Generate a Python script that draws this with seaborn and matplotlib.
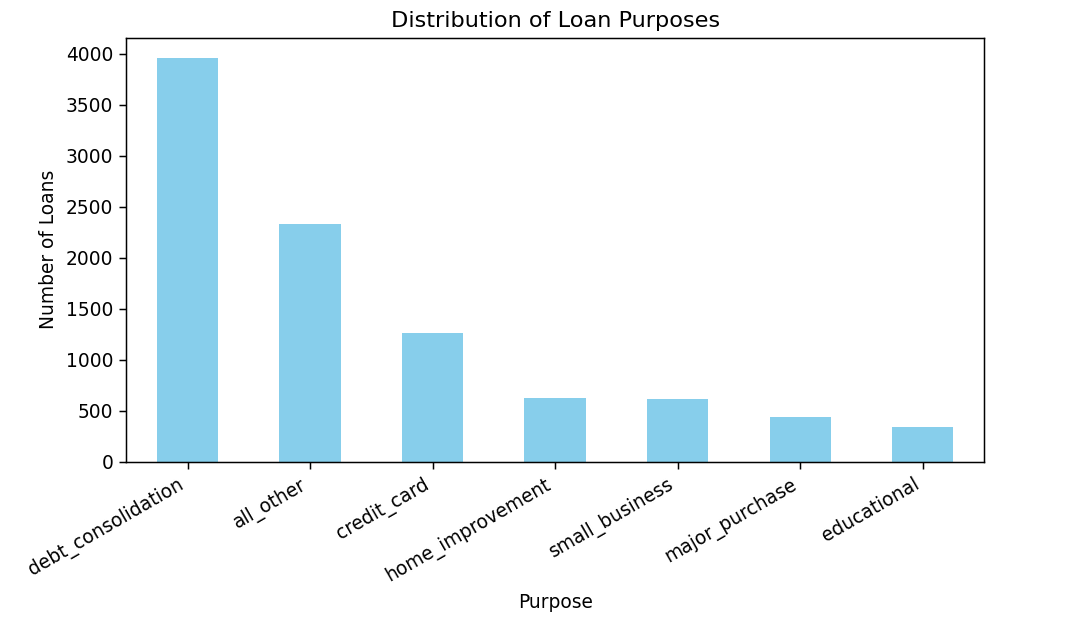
import matplotlib
matplotlib.use('Agg')
import matplotlib.pyplot as plt
import seaborn as sns
import pandas as pd

purposes = ['debt_consolidation', 'all_other', 'credit_card', 'home_improvement',
            'small_business', 'major_purchase', 'educational']
counts = [3957, 2331, 1262, 629, 619, 437, 343]

df = pd.DataFrame({'purpose': purposes, 'count': counts})

s = 1.34  # reference looks like a hi-dpi screenshot
fig, ax = plt.subplots(figsize=(10.8, 6.3), dpi=100)
fig.subplots_adjust(left=0.117, right=0.911, top=0.940, bottom=0.267)
sns.barplot(data=df, x='purpose', y='count', color='skyblue', saturation=1,
            width=0.5, ax=ax)
ax.set_title('Distribution of Loan Purposes', fontsize=12 * s, pad=6 * s)
ax.set_xlabel('Purpose', fontsize=10 * s, labelpad=4 * s)
ax.set_ylabel('Number of Loans', fontsize=10 * s, labelpad=4 * s)
ax.tick_params(labelsize=10 * s, length=3.5 * s, width=0.8 * s, pad=3.5 * s)
for sp in ax.spines.values():
    sp.set_linewidth(0.8 * s)
plt.setp(ax.get_xticklabels(), rotation=30, ha='right')
fig.savefig('out.png')
